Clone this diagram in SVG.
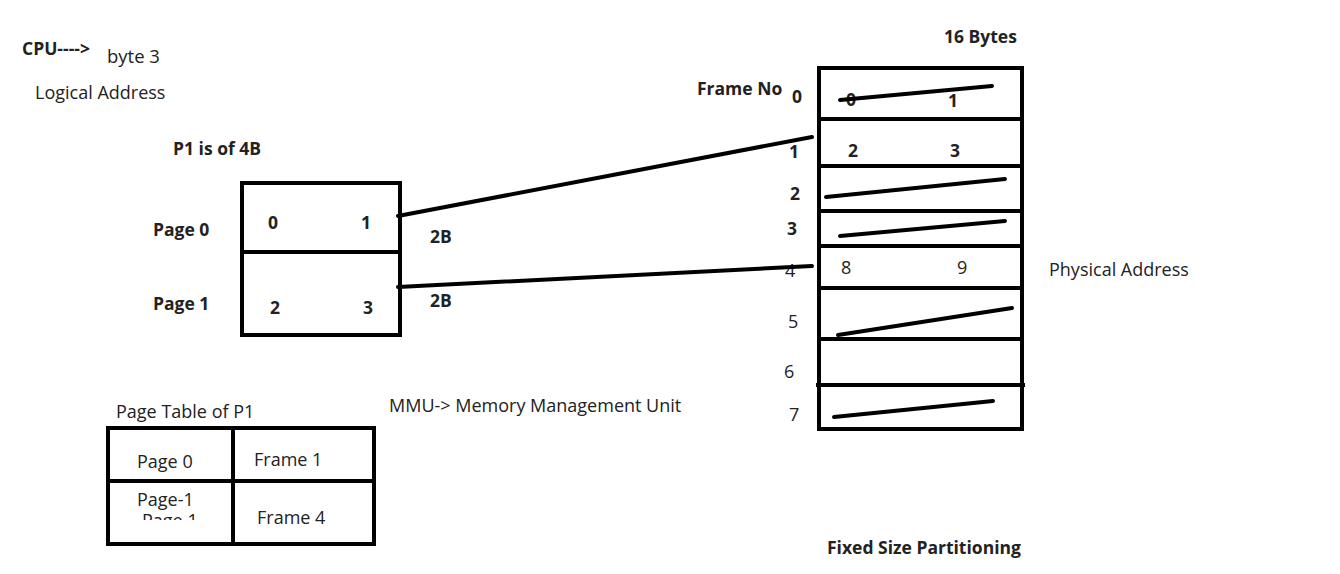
<svg xmlns="http://www.w3.org/2000/svg" width="1340" height="574" viewBox="0 0 1340 574">
<style>
text{font-family:"Open Sans","Noto Sans",sans-serif;font-size:18px;fill:#222}
.b{font-weight:bold;font-size:17.5px}
.box{fill:none;stroke:#000;stroke-width:4}
.ln{stroke:#000;stroke-width:4;stroke-linecap:round;fill:none}
</style>
<defs><clipPath id="cp"><rect x="120" y="508" width="100" height="12"/></clipPath></defs>
<rect width="1340" height="574" fill="#fff"/>
<g id="labels">
<text x="22" y="55" class="b">CPU----&gt;</text>
<text x="107" y="63" style="font-size:18.5px">byte 3</text>
<text x="35" y="99">Logical Address</text>
<text x="173" y="155" class="b">P1 is of 4B</text>
<text x="944" y="43" class="b">16 Bytes</text>
<text x="1049" y="276">Physical Address</text>
<text x="389" y="412">MMU-&gt; Memory Management Unit</text>
<text x="827" y="554" class="b">Fixed Size Partitioning</text>
<text x="430" y="243" class="b">2B</text>
<text x="430" y="307" class="b">2B</text>
</g>
<g id="process">
<text x="153" y="236" class="b">Page 0</text>
<text x="153" y="310" class="b">Page 1</text>
<rect class="box" x="242" y="183" width="158" height="152"/>
<line class="box" x1="242" y1="252" x2="400" y2="252"/>
<text x="268" y="229" class="b">0</text>
<text x="361" y="229" class="b">1</text>
<text x="270" y="314" class="b">2</text>
<text x="363" y="314" class="b">3</text>
</g>
<g id="memory">
<text x="697" y="95" class="b">Frame No</text>
<text x="792" y="103" class="b">0</text>
<text x="789" y="158" class="b">1</text>
<text x="790" y="200" class="b">2</text>
<text x="787" y="235" class="b">3</text>
<text x="785" y="277">4</text>
<text x="788" y="328">5</text>
<text x="784" y="378">6</text>
<text x="789" y="421">7</text>
<rect class="box" x="819" y="68" width="203" height="361"/>
<line class="box" x1="819" y1="119" x2="1022" y2="119"/>
<line class="box" x1="819" y1="166" x2="1022" y2="166"/>
<line class="box" x1="819" y1="211" x2="1022" y2="211"/>
<line class="box" x1="819" y1="246" x2="1022" y2="246"/>
<line class="box" x1="819" y1="288" x2="1022" y2="288"/>
<line class="box" x1="819" y1="339" x2="1022" y2="339"/>
<line class="box" x1="816" y1="385" x2="1025" y2="385"/>
<text x="846" y="106" class="b">0</text>
<text x="948" y="107" class="b">1</text>
<text x="848" y="157" class="b">2</text>
<text x="950" y="157" class="b">3</text>
<text x="841" y="274">8</text>
<text x="957" y="274">9</text>
<line class="ln" x1="840" y1="100" x2="992" y2="86"/>
<line class="ln" x1="826" y1="197" x2="1005" y2="179"/>
<line class="ln" x1="840" y1="236" x2="1005" y2="221"/>
<line class="ln" x1="838" y1="335" x2="1012" y2="308"/>
<line class="ln" x1="834" y1="417" x2="993" y2="401"/>
</g>
<g id="pagetable">
<text x="116" y="418">Page Table of P1</text>
<rect class="box" x="108" y="428" width="266" height="116"/>
<line class="box" x1="233" y1="428" x2="233" y2="544"/>
<line class="box" x1="106" y1="481" x2="374" y2="481"/>
<text x="137" y="468">Page 0</text>
<text x="254" y="466">Frame 1</text>
<text x="137" y="506">Page-1</text>
<text x="142" y="527" clip-path="url(#cp)">Page 1</text>
<text x="257" y="524">Frame 4</text>
</g>
<g id="connectors">
<line class="ln" x1="398" y1="216" x2="812" y2="137"/>
<line class="ln" x1="398" y1="287" x2="812" y2="266"/>
</g>
</svg>
